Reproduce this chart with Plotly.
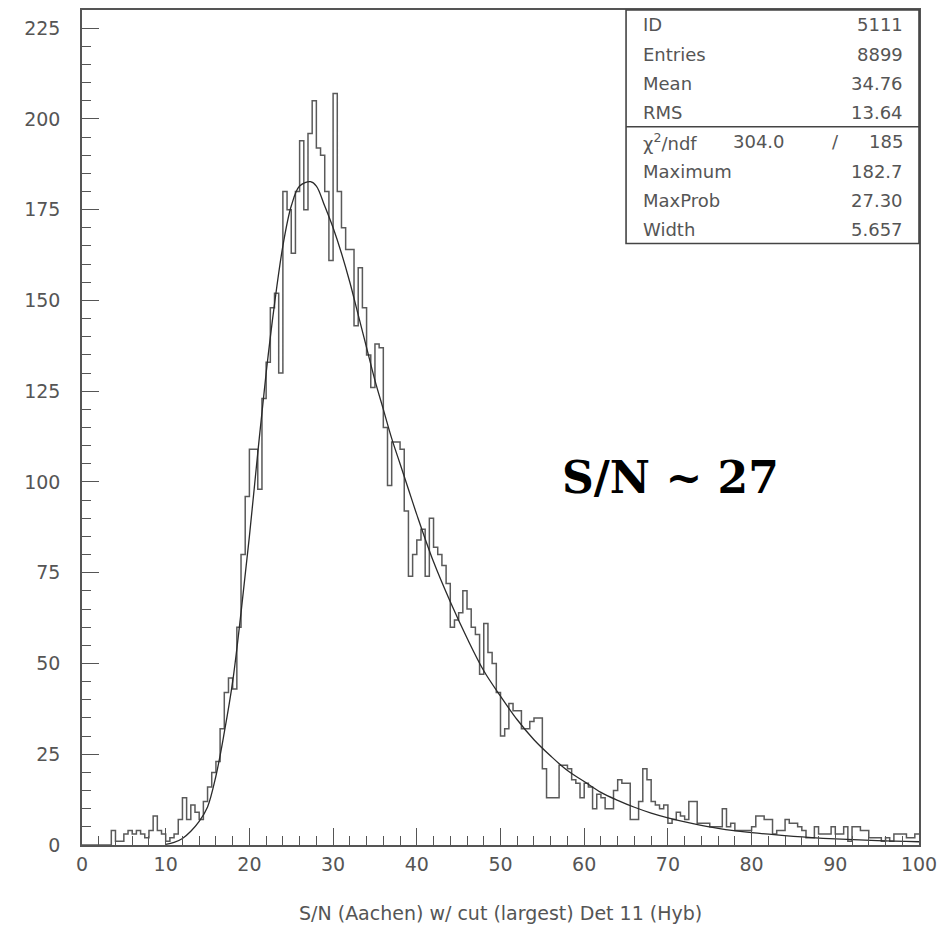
import numpy as np
import plotly.graph_objects as go

# Histogram: S/N spectrum, 200 bins of width 0.5 from 0 to 100
BIN_WIDTH = 0.5
X_MIN, X_MAX = 0.0, 100.0
COUNTS = [
    0, 0, 0, 0, 0, 0, 0,
    4, 1, 1, 3, 4, 3, 4, 3, 2, 4,
    8, 4, 3, 1, 2, 3, 7, 13, 7, 11,
    9, 7, 12, 16, 20, 23, 32, 42, 46, 43, 60,
    80, 96, 109, 109, 98, 123, 133, 148, 152, 130,
    180, 175, 163, 180, 194, 175, 196, 205, 192, 190,
    180, 161, 207, 180, 170, 164, 164, 143, 159, 148,
    135, 126, 138, 137, 115, 99, 111, 111, 109, 92,
    74, 80, 84, 87, 74, 90, 82, 80, 77, 72,
    60, 62, 64, 70, 65, 60, 58, 47, 61, 53,
    50, 42, 30, 32, 39, 37, 37, 32, 32, 34,
    35, 35, 21, 13, 13, 13, 22, 22, 21, 18,
    17, 13, 17, 16, 10, 14, 13, 10, 10, 15,
    18, 17, 17, 7, 7, 12, 21, 18, 12, 11,
    10, 11, 6, 7, 9, 8, 7, 12, 12, 6,
    6, 6, 5, 5, 5, 10, 5, 6, 4, 4,
    4, 4, 5, 8, 8, 7, 7, 3, 4, 4,
    7, 6, 6, 5, 4, 2, 2, 5, 3, 3,
    3, 5, 3, 3, 5, 1, 5, 5, 4, 4,
    2, 2, 2, 1, 2, 1, 3, 3, 3, 2, 2, 3,
]

# Landau fit curve, sampled along x (peak at MaxProb = 27.30, height 182.7)
FIT_X = [10, 11, 12, 13, 14, 15, 16, 17, 18, 19, 20, 21, 22, 23, 24, 25, 26,
         27.3, 28, 29, 30, 31, 32, 33, 34, 35, 36, 37, 38, 39, 40, 42, 44, 46,
         48, 50, 52, 54, 56, 58, 60, 62, 64, 66, 68, 70, 73, 76, 80, 85, 90,
         95, 100]
FIT_Y = [0.2, 0.7, 1.8, 3.8, 6.5, 10.5, 19, 31, 45, 64, 85, 108, 130, 149,
         165, 176, 181.5, 182.7, 181.5, 176, 170, 163, 155, 146, 137, 128,
         120, 112, 105, 98, 91, 78, 67, 57, 48, 41, 34.5, 29, 24.5, 20.5,
         17.5, 14.5, 12.3, 10.4, 8.8, 7.5, 5.9, 4.6, 3.4, 2.4, 1.7, 1.2, 0.9]

# Statistics box contents
STAT_LABELS = ["ID", "Entries", "Mean", "RMS"]
STAT_VALUES = ["5111", "8899", "34.76", "13.64"]
CHI2, NDF = "304.0", "185"
FIT_LABELS = ["Maximum", "MaxProb", "Width"]
FIT_VALUES = ["182.7", "27.30", "5.657"]

X_TITLE = "S/N (Aachen) w/ cut (largest) Det 11 (Hyb)"
LABEL = "S/N ~ 27"

edges = X_MIN + BIN_WIDTH * np.arange(len(COUNTS) + 1)
step_y = list(COUNTS) + [COUNTS[-1]]

GREY = "#555555"
fig = go.Figure()
fig.add_trace(go.Scatter(
    x=edges, y=step_y, mode="lines", line_shape="hv",
    line=dict(color="#5a5a5a", width=1.5), hoverinfo="skip",
))
fig.add_trace(go.Scatter(
    x=FIT_X, y=FIT_Y, mode="lines", line_shape="spline",
    line=dict(color="#2a2a2a", width=1.3, smoothing=1.0), hoverinfo="skip",
))

tick_font = dict(family="DejaVu Sans", size=19, color=GREY)
fig.update_xaxes(
    range=[X_MIN, X_MAX], showgrid=False, zeroline=False,
    showline=True, linecolor=GREY, linewidth=1.6, mirror=True,
    ticks="inside", ticklen=17, tickwidth=1.3, tickcolor=GREY,
    tick0=0, dtick=10, tickfont=tick_font, ticklabelstandoff=1,
    minor=dict(ticks="inside", dtick=2, ticklen=9, tickwidth=1.2, tickcolor=GREY),
)
fig.update_yaxes(
    range=[0, 230], showgrid=False, zeroline=False,
    showline=True, linecolor=GREY, linewidth=1.6, mirror=True,
    ticks="inside", ticklen=17, tickwidth=1.3, tickcolor=GREY,
    tick0=0, dtick=25, tickfont=tick_font, ticklabelstandoff=16,
    minor=dict(ticks="inside", dtick=5, ticklen=9, tickwidth=1.2, tickcolor=GREY),
)

# Plot area in pixels: x 82..922, y 8..845
PX_L, PX_R, PX_T, PX_B = 82, 922, 8, 845


def px(xp):
    return (xp - PX_L) / (PX_R - PX_L)


def py(yp):
    return (PX_B - yp) / (PX_B - PX_T)


shapes = [
    dict(type="rect", xref="paper", yref="paper",
         x0=px(628), x1=1, y0=py(242), y1=1,
         line=dict(color="#444444", width=1.6), fillcolor="white", layer="above"),
    dict(type="line", xref="paper", yref="paper",
         x0=px(628), x1=1, y0=py(125), y1=py(125),
         line=dict(color="#444444", width=1.6), layer="above"),
]

stat_font = dict(family="DejaVu Sans", size=18, color=GREY)
annotations = []
row_y0, row_dy = 23, 29.3
labels = STAT_LABELS + ["χ<sup>2</sup>/ndf"] + FIT_LABELS
values = STAT_VALUES + [NDF] + FIT_VALUES
for k, (lab, val) in enumerate(zip(labels, values)):
    yy = py(row_y0 + k * row_dy)
    annotations.append(dict(text=lab, x=px(643), y=yy, xref="paper", yref="paper",
                            xanchor="left", yanchor="middle", showarrow=False, font=stat_font))
    annotations.append(dict(text=val, x=px(908), y=yy, xref="paper", yref="paper",
                            xanchor="right", yanchor="middle", showarrow=False, font=stat_font))
chi_y = py(row_y0 + 4 * row_dy)
annotations.append(dict(text=CHI2, x=px(761), y=chi_y, xref="paper", yref="paper",
                        xanchor="center", yanchor="middle", showarrow=False, font=stat_font))
annotations.append(dict(text="/", x=px(838), y=chi_y, xref="paper", yref="paper",
                        xanchor="center", yanchor="middle", showarrow=False, font=stat_font))

annotations.append(dict(text=X_TITLE, x=0.5, y=py(913), xref="paper", yref="paper",
                        xanchor="center", yanchor="middle", showarrow=False,
                        font=dict(family="DejaVu Sans", size=19, color=GREY)))
annotations.append(dict(text="<b>" + LABEL + "</b>", x=px(673), y=py(477),
                        xref="paper", yref="paper", xanchor="center", yanchor="middle",
                        showarrow=False,
                        font=dict(family="DejaVu Serif", size=44, color="black")))

fig.update_layout(
    width=945, height=929,
    margin=dict(l=PX_L, r=945 - PX_R, t=PX_T, b=929 - PX_B),
    plot_bgcolor="white", paper_bgcolor="white",
    showlegend=False, shapes=shapes, annotations=annotations,
)

fig.write_html("out.html")
